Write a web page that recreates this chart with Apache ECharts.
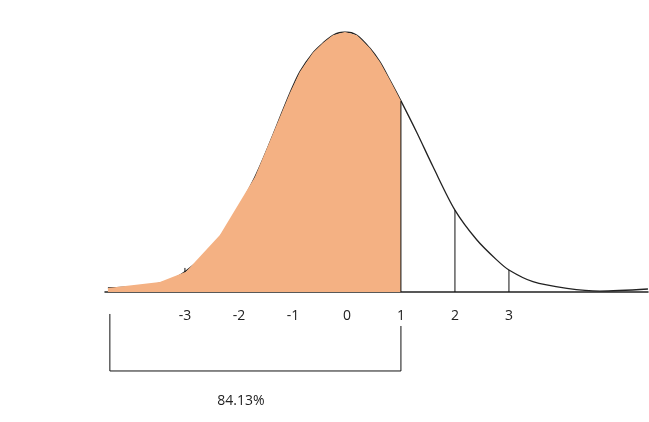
<!DOCTYPE html>
<html>
<head>
<meta charset="utf-8">
<script src="https://cdn.jsdelivr.net/npm/echarts@6/dist/echarts.min.js"></script>
<style>html,body{margin:0;padding:0;background:#fff}#c{width:649px;height:422px}</style>
</head>
<body>
<div id="c"></div>
<script>
// Curve (z-score, height)
var curveX = [-4.426,-3.463,-2.981,-2.352,-1.704,-1.056,-0.870,-0.630,-0.444,-0.259,-0.037,0.185,0.426,0.611,0.796,1.0,1.296,1.593,2.0,2.407,2.778,3.0,3.444,4.074,4.685,5.574];
var curveY = [0.0062,0.0138,0.0323,0.0846,0.177,0.306,0.339,0.368,0.383,0.395,0.400,0.395,0.375,0.354,0.326,0.294,0.245,0.193,0.126,0.080,0.049,0.0338,0.0158,0.0057,0.0015,0.0046];
// Shaded area up to z = 1
var fillX = [-4.426,-3.463,-2.981,-2.352,-1.704,-1.056,-0.870,-0.630,-0.444,-0.259,-0.037,0.185,0.426,0.611,0.796,1.0];
var fillY = [0.0062,0.0154,0.0312,0.0877,0.177,0.306,0.339,0.368,0.383,0.395,0.400,0.395,0.375,0.354,0.326,0.294];
// Vertical markers
var markX = [-3, 1, 2, 3];
var markY = [0.037, 0.294, 0.126, 0.0338];
// Tick labels
var tickLabels = [-3, -2, -1, 0, 1, 2, 3];
// Bracket below axis
var bracketX = [-4.39, -4.39, 1, 1];
var bracketY = [-0.0338, -0.1215, -0.1215, -0.0523];
var percentText = '84.13%';

function zip(a, b) { return a.map(function (v, i) { return [v, b[i]]; }); }

var series = [
  { type: 'line', data: zip(curveX, curveY), smooth: 0.3, symbol: 'none', z: 1,
    lineStyle: { color: '#222', width: 1.3 } },
  { type: 'line', data: zip(fillX, fillY), smooth: false, symbol: 'none', z: 2,
    lineStyle: { width: 0, opacity: 0 }, areaStyle: { color: '#F4B183', opacity: 1 } },
  { type: 'line', data: zip(bracketX, bracketY), symbol: 'none', clip: false, z: 3,
    lineStyle: { color: '#111', width: 1 } }
];
markX.forEach(function (x, i) {
  series.push({ type: 'line', data: [[x, 0], [x, markY[i]]], symbol: 'none', z: x < 0 ? 1 : 3,
    lineStyle: { color: '#111', width: 1 } });
});

var chart = echarts.init(document.getElementById('c'), null, { renderer: 'canvas' });
chart.setOption({
  animation: false,
  backgroundColor: '#fff',
  grid: { left: 105, right: 1, top: 32, bottom: 130, containLabel: false },
  xAxis: {
    type: 'value', min: -4.48, max: 5.575,
    splitLine: { show: false },
    axisTick: { show: false },
    axisLine: { show: true, onZero: false, lineStyle: { color: '#222', width: 1.5 } },
    axisLabel: { customValues: tickLabels, margin: 17, color: '#222', fontSize: 14,
      fontFamily: 'Open Sans, sans-serif', formatter: function (v) { return String(v); } }
  },
  yAxis: { type: 'value', min: 0, max: 0.4, show: false, splitLine: { show: false } },
  graphic: [{ type: 'text', x: 241, y: 401, style: { text: percentText, align: 'center',
    verticalAlign: 'middle', fill: '#222', font: '14px "Open Sans", sans-serif' } }],
  series: series
});
</script>
</body>
</html>
